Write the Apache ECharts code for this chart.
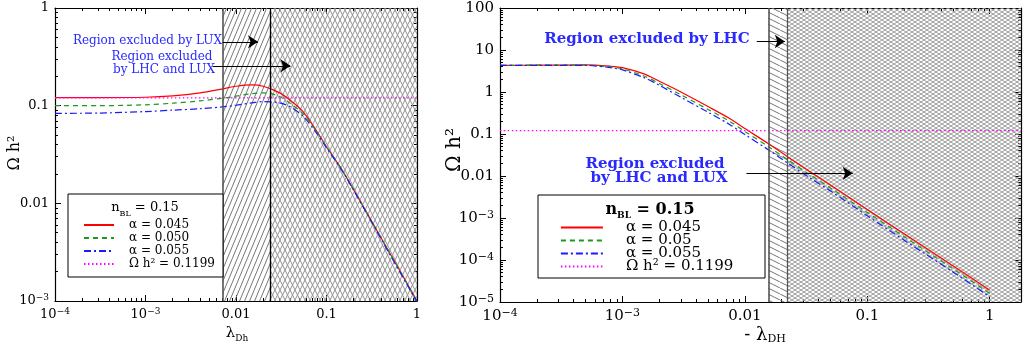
<!DOCTYPE html>
<html lang="en">
<head>
<meta charset="utf-8">
<title>Omega h2 vs lambda</title>
<script src="https://cdn.jsdelivr.net/npm/echarts@6/dist/echarts.min.js"></script>
<style>
    html, body { margin: 0; padding: 0; background: #fff; }
    #chart { width: 1024px; height: 345px; }
</style>
</head>
<body>
<div id="chart"></div>
<script type="text/javascript">
// left panel: scan in lambda_Dh
var lamL   = [1e-4, 3e-4, 1e-3, 2e-3, 4e-3, 7e-3, 0.01, 0.015, 0.02, 0.03, 0.04, 0.055, 0.075, 0.1, 0.15, 0.3, 0.5, 1];
var redL   = [0.121, 0.121, 0.122, 0.126, 0.135, 0.148, 0.158, 0.163, 0.158, 0.136, 0.113, 0.087, 0.058, 0.038, 0.0217, 0.0071, 0.0031, 0.001];
var greenL = [0.100, 0.100, 0.102, 0.106, 0.112, 0.119, 0.125, 0.133, 0.135, 0.125, 0.105, 0.083, 0.057, 0.038, 0.0216, 0.0071, 0.0031, 0.001];
var blueL  = [0.0835, 0.084, 0.087, 0.090, 0.093, 0.097, 0.101, 0.107, 0.110, 0.107, 0.097, 0.078, 0.055, 0.037, 0.0213, 0.0070, 0.0030, 0.00098];

// right panel: scan in -lambda_DH
var lamR   = [1e-4, 2e-4, 5e-4, 8e-4, 1e-3, 1.5e-3, 2e-3, 3e-3, 5e-3, 7.5e-3, 0.01, 0.0154, 0.0221, 0.0336, 0.05, 0.1, 0.2, 0.5, 1];
var redR   = [4.3, 4.35, 4.4, 4.1, 3.8, 2.7, 1.8, 1.0, 0.45, 0.234, 0.135, 0.06, 0.0293, 0.013, 0.0061, 0.0016, 4.2e-4, 7.3e-5, 1.9e-5];
var greenR = [4.3, 4.35, 4.35, 3.95, 3.55, 2.4, 1.6, 0.86, 0.385, 0.2, 0.115, 0.051, 0.025, 0.011, 0.0052, 0.00136, 3.6e-4, 6.2e-5, 1.6e-5];
var blueR  = [4.3, 4.3, 4.3, 3.8, 3.35, 2.2, 1.45, 0.75, 0.33, 0.169, 0.097, 0.043, 0.0208, 0.0092, 0.0044, 0.00113, 2.95e-4, 5.2e-5, 1.33e-5];

var omegaObs = 0.1199;
var excludedL = [0.0071, 0.0239];   // LUX edge, LHC+LUX edge
var excludedR = [0.01556, 0.0221];  // LHC edge, LHC+LUX edge
var xMaxR = 1.8;
var yRangeL = [1e-3, 1];
var yRangeR = [1e-5, 100];

// tick labels
var xExp = [-4, -3, -2, -1, 0];
var xLab = ['10{s|−4}', '10{s|−3}', '0.01', '0.1', '1'];
var yExpL = [-3, -2, -1, 0];
var yLabL = ['10{s|−3}', '0.01', '0.1', '1'];
var yExpR = [-5, -4, -3, -2, -1, 0, 1, 2];
var yLabR = ['10{s|−5}', '10{s|−4}', '10{s|−3}', '0.01', '0.1', '1', '10', '100'];
var minorMult = [2, 3, 4, 5, 6, 7, 8, 9];

var namesL = ['α = 0.045', 'α = 0.050', 'α = 0.055', 'Ω h² = 0.1199'];
var namesR = ['α = 0.045', 'α = 0.05', 'α = 0.055', 'Ω h² = 0.1199'];

var FONT = 'DejaVu Serif';
var BLUE_TXT = '#2a2aff';

function pairs(xs, ys) {
    return xs.map(function (x, i) { return [x, ys[i]]; });
}

function minorLogs(lo, hi) {
    var out = [];
    for (var d = Math.floor(lo); d < hi; d++) {
        minorMult.forEach(function (m) {
            var v = d + Math.log10(m);
            if (v > lo && v < hi) out.push(v);
        });
    }
    return out;
}

function hatch(w, h, up, down, color) {
    var c = document.createElement('canvas');
    c.width = w; c.height = h;
    var ctx = c.getContext('2d');
    ctx.strokeStyle = color;
    ctx.lineWidth = 1;
    for (var k = -1; k <= 1; k++) {
        if (up) { ctx.beginPath(); ctx.moveTo(k * w, h); ctx.lineTo(k * w + w, 0); ctx.stroke(); }
        if (down) { ctx.beginPath(); ctx.moveTo(k * w, 0); ctx.lineTo(k * w + w, h); ctx.stroke(); }
    }
    return { image: c, repeat: 'repeat' };
}

function fmt(exps, labels) {
    return function (v) {
        var l = Math.log10(v), e = Math.round(l);
        if (Math.abs(l - e) > 1e-6) return '';
        var i = exps.indexOf(e);
        return i < 0 ? '' : labels[i];
    };
}

function logAxis(grid, pos, min, max, exps, labels, size) {
    return {
        type: 'log', logBase: 10, gridIndex: grid, position: pos, min: min, max: max, interval: 1,
        axisLine: { show: true, onZero: false, lineStyle: { color: '#000', width: 1.2 } },
        axisTick: { show: true, inside: true, length: 6, lineStyle: { color: '#000' } },
        axisLabel: {
            show: !!labels, margin: 6, color: '#000', fontFamily: FONT, fontSize: size, lineHeight: 16,
            formatter: labels ? fmt(exps, labels) : null,
            rich: { s: { fontFamily: FONT, fontSize: size - 4, lineHeight: 8, verticalAlign: 'top', color: '#000' } }
        },
        splitLine: { show: false }
    };
}

function minorAxis(grid, pos, lo, hi) {
    return {
        type: 'value', gridIndex: grid, position: pos, min: lo, max: hi,
        axisLine: { show: false, onZero: false },
        axisLabel: { show: false },
        splitLine: { show: false },
        axisTick: { show: true, inside: true, length: 3, customValues: minorLogs(lo, hi), lineStyle: { color: '#000' } }
    };
}

var lxR = Math.log10(xMaxR);
var xAxes = [
    logAxis(0, 'bottom', 1e-4, 1, xExp, xLab, 13),
    logAxis(0, 'top', 1e-4, 1, null, null, 13),
    minorAxis(0, 'bottom', -4, 0),
    minorAxis(0, 'top', -4, 0),
    logAxis(1, 'bottom', 1e-4, xMaxR, xExp, xLab, 15),
    logAxis(1, 'top', 1e-4, xMaxR, null, null, 15),
    minorAxis(1, 'bottom', -4, lxR),
    minorAxis(1, 'top', -4, lxR)
];
var yAxes = [
    logAxis(0, 'left', yRangeL[0], yRangeL[1], yExpL, yLabL, 13),
    logAxis(0, 'right', yRangeL[0], yRangeL[1], null, null, 13),
    minorAxis(0, 'left', -3, 0),
    minorAxis(0, 'right', -3, 0),
    logAxis(1, 'left', yRangeR[0], yRangeR[1], yExpR, yLabR, 15),
    logAxis(1, 'right', yRangeR[0], yRangeR[1], null, null, 15),
    minorAxis(1, 'left', -5, 2),
    minorAxis(1, 'right', -5, 2)
];

function curve(name, xi, xs, ys, color, type) {
    return {
        name: name, type: 'line', xAxisIndex: xi, yAxisIndex: xi, z: 3,
        data: pairs(xs, ys), smooth: 0.3, symbol: 'none', silent: true,
        lineStyle: { color: color, width: 1.2, type: type },
        itemStyle: { color: color }
    };
}

function hatchSeries(xi, edges, xmax, yr, simple, cross) {
    return {
        type: 'line', xAxisIndex: xi, yAxisIndex: xi, data: [], z: 1, silent: true,
        markArea: {
            silent: true,
            data: [
                [{ coord: [edges[0], yr[0]], itemStyle: { color: simple } }, { coord: [edges[1], yr[1]] }],
                [{ coord: [edges[1], yr[0]], itemStyle: { color: cross } }, { coord: [xmax, yr[1]] }]
            ]
        }
    };
}

function lineSeries(xi, edges, yr, edgeColors, arrows) {
    var edgeLines = edges.map(function (e, i) {
        return [
            { coord: [e, yr[0]], symbol: 'none', lineStyle: { color: edgeColors[i], width: i ? 1.3 : 1.6 } },
            { coord: [e, yr[1]], symbol: 'none' }
        ];
    });
    var arrowLines = arrows.map(function (a) {
        return [{ coord: a[0], symbol: 'none' }, { coord: a[1], symbol: 'arrow' }];
    });
    return {
        type: 'line', xAxisIndex: xi, yAxisIndex: xi, data: [], z: 2, silent: true,
        markLine: {
            silent: true, animation: false, precision: 10, label: { show: false },
            symbol: ['none', 'arrow'], symbolSize: 10,
            lineStyle: { color: '#000', width: 1, type: 'solid' },
            data: edgeLines.concat(arrowLines)
        }
    };
}

var arrowsL = [[[0.0071, 0.45], [0.0175, 0.45]], [[0.0055, 0.256], [0.040, 0.256]]];
var arrowsR = [[[0.0125, 15.9], [0.0212, 15.9]], [[0.0103, 0.0116], [0.076, 0.0116]]];

var chart = echarts.init(document.getElementById('chart'), null, { renderer: 'canvas' });

function txt(x, y, text, size, opts) {
    opts = opts || {};
    return {
        type: 'text', x: x, y: y, z: 20, rotation: opts.rot || 0, silent: true,
        style: {
            text: text, fill: opts.color || '#000', fontFamily: FONT, fontSize: size,
            fontWeight: opts.bold ? 'bold' : 'normal',
            align: opts.align || 'center', verticalAlign: 'middle',
            rich: opts.rich
        }
    };
}

function subRich(size, sub, bold) {
    return {
        a: { fontFamily: FONT, fontSize: size, lineHeight: 20, fontWeight: bold ? 'bold' : 'normal', color: '#000' },
        b: { fontFamily: FONT, fontSize: sub, lineHeight: 10, verticalAlign: 'bottom', fontWeight: bold ? 'bold' : 'normal', color: '#000' }
    };
}

var option = {
    animation: false,
    backgroundColor: '#fff',
    grid: [
        { left: 55, right: 607, top: 7, bottom: 44 },
        { left: 500, right: 2, top: 8, bottom: 43 }
    ],
    xAxis: xAxes,
    yAxis: yAxes,
    legend: [
        {
            data: namesL, orient: 'vertical', left: 83, top: 219, z: 15, padding: 0,
            itemWidth: 30, itemHeight: 12, itemGap: 1, selectedMode: false,
            itemStyle: { opacity: 0 },
            textStyle: { fontFamily: FONT, fontSize: 12, lineHeight: 12, color: '#000', padding: [0, 0, 0, 10] }
        },
        {
            data: namesR, orient: 'vertical', left: 560, top: 220, z: 15, padding: 0,
            itemWidth: 42, itemHeight: 12, itemGap: -2, selectedMode: false,
            itemStyle: { opacity: 0 },
            lineStyle: { width: 1.8 },
            textStyle: { fontFamily: FONT, fontSize: 15, lineHeight: 12, color: '#000', padding: [0, 0, 0, 18] }
        }
    ],
    graphic: [
        { type: 'rect', z: 12, silent: true, shape: { x: 68, y: 194, width: 155, height: 83 }, style: { fill: '#fff', stroke: '#000', lineWidth: 1 } },
        { type: 'rect', z: 12, silent: true, shape: { x: 538, y: 195, width: 227, height: 83 }, style: { fill: '#fff', stroke: '#000', lineWidth: 1 } },
        txt(145, 208, '{a|n}{b|BL}{a| = 0.15}', 13, { rich: subRich(13, 8) }),
        txt(650, 210, '{a|n}{b|BL}{a| = 0.15}', 16, { rich: subRich(16, 9, true) }),
        txt(15, 153, 'Ω h²', 16, { rot: Math.PI / 2 }),
        txt(455, 150, 'Ω h²', 20, { rot: Math.PI / 2 }),
        txt(237, 333, '{a|λ}{b|Dh}', 15, { rich: subRich(15, 9) }),
        txt(765, 335, '{a|- λ}{b|DH}', 18, { rich: subRich(18, 11) }),
        txt(222, 41, 'Region excluded by LUX', 12, { color: BLUE_TXT, align: 'right' }),
        txt(162, 57, 'Region excluded', 12, { color: BLUE_TXT }),
        txt(164, 70, 'by LHC and LUX', 12, { color: BLUE_TXT }),
        txt(647, 39, 'Region excluded by LHC', 15, { color: BLUE_TXT, bold: true }),
        txt(655, 164, 'Region excluded', 15, { color: BLUE_TXT, bold: true }),
        txt(659, 178, 'by LHC and LUX', 15, { color: BLUE_TXT, bold: true })
    ],
    series: [
        hatchSeries(0, excludedL, 1, yRangeL, hatch(5, 12, true, false, '#777'), hatch(5, 10, true, true, '#909090')),
        lineSeries(0, excludedL, yRangeL, ['#555', '#000'], arrowsL),
        curve(namesL[0], 0, lamL, redL, '#ff0000', 'solid'),
        curve(namesL[1], 0, lamL, greenL, '#1a9a1a', [5, 4]),
        curve(namesL[2], 0, lamL, blueL, '#1a1aff', [7, 3, 2, 3]),
        curve(namesL[3], 0, [1e-4, 1], [omegaObs, omegaObs], '#ff00ff', [1.5, 2.5]),

        hatchSeries(4, excludedR, xMaxR, yRangeR, hatch(12, 6, false, true, '#777'), hatch(6, 4, true, true, '#9a9a9a')),
        lineSeries(4, excludedR, yRangeR, ['#555', '#555'], arrowsR),
        curve(namesR[0], 4, lamR, redR, '#ff0000', 'solid'),
        curve(namesR[1], 4, lamR, greenR, '#1a9a1a', [5, 4]),
        curve(namesR[2], 4, lamR, blueR, '#1a1aff', [7, 3, 2, 3]),
        curve(namesR[3] + ' ', 4, [1e-4, xMaxR], [omegaObs, omegaObs], '#ff00ff', [1.5, 2.5])
    ]
};
chart.setOption(option);
</script>
</body>
</html>
